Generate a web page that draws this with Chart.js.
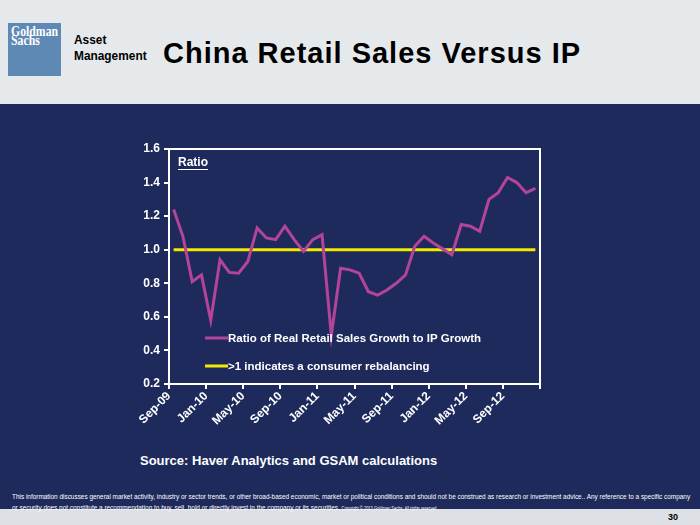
<!DOCTYPE html>
<html>
<head>
<meta charset="utf-8">
<script src="https://cdn.jsdelivr.net/npm/chart.js@4"></script>
<style>
  body { margin: 0; width: 700px; height: 525px; overflow: hidden; font-family: "Liberation Sans", Arial, sans-serif; background: #1e2a5c; position: relative; }
  #top { position: absolute; left: 0; top: 0; width: 700px; height: 104px; background: #e6e9ec; }
  #logo { position: absolute; left: 8px; top: 23px; width: 53px; height: 53px; background: #5f89b5; }
  .gs { position: absolute; left: 3px; color: #fff; font-family: "Liberation Serif", serif; font-weight: bold; font-size: 14px; transform: scaleX(0.84); transform-origin: left top; line-height: 10px; }
  .am { position: absolute; left: 74px; color: #000; font-weight: bold; font-size: 12.5px; transform: scaleX(0.95); transform-origin: left top; line-height: 1; }
  #title { position: absolute; left: 163px; top: 37px; font-weight: bold; font-size: 29px; letter-spacing: 1px; color: #000; white-space: nowrap; }
  #src { position: absolute; left: 140px; top: 453px; color: #fff; font-weight: bold; font-size: 13px; white-space: nowrap; }
  #disc { position: absolute; left: 12px; top: 491px; color: #fff; font-size: 8px; line-height: 11px; white-space: nowrap; transform-origin: left top; }
  #bottom { position: absolute; left: 0; top: 509px; width: 700px; height: 16px; background: #dde1e6; }
  #pg { position: absolute; left: 668px; top: 512px; font-weight: bold; font-size: 9px; color: #000; }
  #wrap { position: absolute; left: 100px; top: 130px; width: 460px; height: 300px; }
</style>
</head>
<body>
<div id="top">
  <div id="logo"><div class="gs" style="top:4px">Goldman</div><div class="gs" style="top:13px">Sachs</div></div>
  <div class="am" style="top:34px">Asset</div>
  <div class="am" style="top:50px">Management</div>
  <div id="title">China Retail Sales Versus IP</div>
</div>
<div id="wrap"><canvas id="c" width="460" height="300"></canvas></div>
<div id="src">Source: Haver Analytics and GSAM calculations</div>
<div id="bottom"></div>
<div id="disc">This information discusses general market activity, industry or sector trends, or other broad-based economic, market or political conditions and should not be construed as research or investment advice.. Any reference to a specific company<br>or security does not constitute a recommendation to buy, sell, hold or directly invest in the company or its securities. <span style="font-size:5px">Copyright © 2013 Goldman Sachs. All rights reserved</span></div>
<div id="pg">30</div>
<script>
// monthly, Sep-09 .. Dec-12
const months = ['Sep-09','Oct-09','Nov-09','Dec-09','Jan-10','Feb-10','Mar-10','Apr-10','May-10','Jun-10',
  'Jul-10','Aug-10','Sep-10','Oct-10','Nov-10','Dec-10','Jan-11','Feb-11','Mar-11','Apr-11',
  'May-11','Jun-11','Jul-11','Aug-11','Sep-11','Oct-11','Nov-11','Dec-11','Jan-12','Feb-12',
  'Mar-12','Apr-12','May-12','Jun-12','Jul-12','Aug-12','Sep-12','Oct-12','Nov-12','Dec-12']
const ratio = [1.24,1.08,0.81,0.85,0.58,0.94,0.865,0.86,0.93,1.13,
  1.07,1.06,1.14,1.06,0.99,1.06,1.09,0.49,0.89,0.88,
  0.86,0.75,0.73,0.76,0.80,0.85,1.02,1.08,1.04,1.005,
  0.97,1.15,1.14,1.11,1.30,1.34,1.43,1.40,1.34,1.365]
const threshold = 1.0
const xTickLabels = ['Sep-09','Jan-10','May-10','Sep-10','Jan-11','May-11','Sep-11','Jan-12','May-12','Sep-12']
const yTicks = [0.2,0.4,0.6,0.8,1.0,1.2,1.4,1.6]
const seriesNames = ['Ratio of Real Retail Sales Growth to IP Growth','>1 indicates a consumer rebalancing']

// squeeze the disclaimer to the page width
const disc = document.getElementById('disc')
disc.style.transform = 'scaleX(' + (678 / disc.scrollWidth) + ')'

const tickFont = { family: 'Liberation Sans', weight: 'bold', size: 12 }

// white box round the plot, "Ratio" label and legend inside
const boxPlugin = {
  id: 'box',
  afterDraw(chart) {
    const {ctx, chartArea: a} = chart
    ctx.save()
    ctx.strokeStyle = '#fff'
    ctx.lineWidth = 2
    ctx.strokeRect(a.left, a.top, a.right - a.left, a.bottom - a.top)
    ctx.fillStyle = '#fff'
    ctx.font = 'bold 12px "Liberation Sans"'
    ctx.textBaseline = 'middle'
    ctx.fillText('Ratio', a.left + 9, a.top + 14)
    const w = ctx.measureText('Ratio').width
    ctx.fillRect(a.left + 9, a.top + 20, w, 1)
    ctx.font = 'bold 11.5px "Liberation Sans"'
    chart.data.datasets.forEach((ds, i) => {
      const y = a.top + 189 + i * 28
      ctx.strokeStyle = ds.borderColor
      ctx.lineWidth = 3
      ctx.beginPath()
      ctx.moveTo(a.left + 36, y)
      ctx.lineTo(a.left + 59, y)
      ctx.stroke()
      ctx.fillText(ds.label, a.left + 59, y + 1)
    })
    ctx.restore()
  }
}

new Chart(document.getElementById('c'), {
  type: 'line',
  data: {
    datasets: [
      {
        label: seriesNames[0],
        data: ratio.map((v, i) => ({x: i + 0.5, y: v})),
        borderColor: '#b4449a',
        borderWidth: 3,
        pointRadius: 0,
        tension: 0
      },
      {
        label: seriesNames[1],
        data: months.map((m, i) => ({x: i + 0.5, y: threshold})),
        borderColor: '#f2ea00',
        borderWidth: 3,
        pointRadius: 0
      }
    ]
  },
  plugins: [boxPlugin],
  options: {
    responsive: false,
    animation: false,
    layout: { padding: { top: 19, right: 20, left: 0, bottom: 0 } },
    plugins: { legend: { display: false }, tooltip: { enabled: false } },
    scales: {
      x: {
        type: 'linear',
        min: 0,
        max: months.length,
        afterFit: s => { s.height = 46 },
        afterBuildTicks: s => { s.ticks = xTickLabels.map((t, i) => ({value: i * 4})).concat([{value: 40}]) },
        ticks: {
          color: '#fff',
          font: tickFont,
          maxRotation: 45,
          minRotation: 45,
          autoSkip: false,
          padding: 0,
          callback: v => xTickLabels[v / 4] || ''
        },
        grid: { drawOnChartArea: false, color: '#fff', tickLength: 5, lineWidth: 2 },
        border: { display: false }
      },
      y: {
        min: 0.2,
        max: 1.6,
        afterFit: s => { s.width = 69 },
        afterBuildTicks: s => { s.ticks = yTicks.map(v => ({value: v})) },
        ticks: { color: '#fff', font: tickFont, padding: 4, callback: v => v.toFixed(1) },
        grid: { drawOnChartArea: false, color: '#fff', tickLength: 5, lineWidth: 2 },
        border: { display: false }
      }
    }
  }
})
</script>
</body>
</html>
